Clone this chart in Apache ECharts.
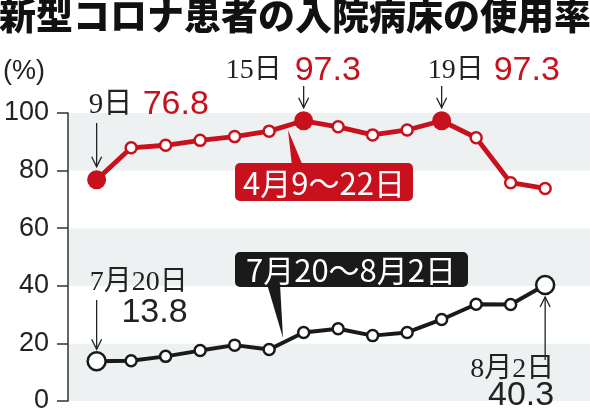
<!DOCTYPE html>
<html><head><meta charset="utf-8">
<script src="https://cdn.jsdelivr.net/npm/echarts@6/dist/echarts.min.js"></script>
<style>html,body{margin:0;padding:0;background:#fff}#c{width:590px;height:418px}</style>
</head><body><div id="c"></div>
<script>
const aprilDays = ['9','10','11','12','13','14','15','16','17','18','19','20','21','22'];
const julyAugDays = ['7/20','7/21','7/22','7/23','7/24','7/25','7/26','7/27','7/28','7/29','7/30','7/31','8/1','8/2'];
const aprilRate = [76.8, 87.9, 88.8, 90.5, 91.8, 93.7, 97.3, 95.2, 92.4, 94.1, 97.3, 91.4, 75.8, 73.8];
const julyAugRate = [13.8, 14.0, 15.5, 17.5, 19.4, 17.9, 23.8, 25.1, 22.7, 23.8, 28.3, 33.6, 33.5, 40.3];
const yTicks = [0, 20, 40, 60, 80, 100];
const aprilHighlight = [0, 6, 10];
const julyHighlight = [0, 13];

const RED = '#c8111c', BLK = '#1a1a1a';
const SANS = "'Liberation Sans', Arial, 'Noto Sans CJK JP', sans-serif";
const SERIF = "'Liberation Serif', 'DejaVu Serif', 'Noto Sans CJK JP', serif";
const CJK = "'Noto Sans CJK JP', sans-serif";

const chart = echarts.init(document.getElementById('c'), null, {renderer: 'canvas'});

const redData = aprilRate.map((v, i) => {
  const hi = aprilHighlight.includes(i);
  return {value: [i, v], symbolSize: hi ? 19 : 11,
    itemStyle: hi ? {color: RED, borderColor: RED, borderWidth: 0} : {color: '#fff', borderColor: RED, borderWidth: 2.5}};
});
const blkData = julyAugRate.map((v, i) => {
  const hi = julyHighlight.includes(i);
  return {value: [i, v], symbolSize: hi ? 18 : 11,
    itemStyle: {color: '#fff', borderColor: BLK, borderWidth: 2.5}};
});

chart.setOption({
  animation: false,
  title: {text: '新型コロナ患者の入院病床の使用率', left: -1, top: -3, padding: 0,
    textStyle: {fontFamily: CJK, fontSize: 37, fontWeight: 900, color: '#111'}},
  grid: {left: 68, right: 0, top: 113, bottom: 17},
  xAxis: {type: 'value', min: -0.83, max: 14.3, show: false},
  yAxis: {type: 'value', min: yTicks[0], max: yTicks[yTicks.length - 1], interval: 20,
    axisLine: {show: true, onZero: false, lineStyle: {color: '#333', width: 1.5}},
    axisTick: {show: true, length: 11, lineStyle: {color: '#333', width: 1.5}},
    axisLabel: {fontFamily: SANS, fontSize: 27, color: '#222', margin: 19},
    splitLine: {show: false},
    splitArea: {show: true, areaStyle: {color: ['#edf1f2', '#ffffff']}}
  },
  series: [
    {type: 'line', data: redData, symbol: 'circle', lineStyle: {color: RED, width: 4.8}, z: 3},
    {type: 'line', data: blkData, symbol: 'circle', lineStyle: {color: BLK, width: 4}, z: 3}
  ]
});

function px(si, i) {
  const v = si === 0 ? aprilRate[i] : julyAugRate[i];
  return chart.convertToPixel({gridIndex: 0}, [i, v]);
}
let uid = 0;
function arrow(x, y1, y2, color) {
  const d = y2 > y1 ? -1 : 1;
  return [
    {type: 'polyline', id: 'a' + (uid++), shape: {points: [[x, y1], [x, y2]]}, style: {stroke: color, lineWidth: 1.3, fill: null}, z: 10},
    {type: 'polyline', id: 'a' + (uid++), shape: {points: [[x - 5, y2 + d * 10], [x, y2], [x + 5, y2 + d * 10]]}, style: {stroke: color, lineWidth: 1.3, fill: null}, z: 10}
  ];
}
function txt(t, x, y, font, fill, align) {
  return {type: 'text', id: 't' + (uid++), z: 10, style: {text: t, x: x, y: y, font: font, fill: fill, textAlign: align || 'left', textVerticalAlign: 'middle'}};
}

const r0 = px(0, 0), r6 = px(0, 6), r10 = px(0, 10);
const b0 = px(1, 0), b13 = px(1, 13);
const els = [];
els.push(txt('(%)', 3, 72, `27px ${SANS}`, '#222'));
// 9日 76.8
els.push(txt(aprilDays[0] + '日', r0[0] - 8, 105, `29px ${SERIF}`, '#222'));
els.push(txt(aprilRate[0].toFixed(1), r0[0] + 46, 105, `34px ${SANS}`, RED));
els.push(...arrow(r0[0], 123, r0[1] - 13, '#222'));
// 15日 97.3
els.push(txt(aprilDays[6] + '日', r6[0] - 22, 71, `28px ${SERIF}`, '#222', 'right'));
els.push(txt(aprilRate[6].toFixed(1), r6[0] - 9, 71, `34px ${SANS}`, RED));
els.push(...arrow(r6[0], 86, r6[1] - 13, '#222'));
// 19日 97.3
els.push(txt(aprilDays[10] + '日', r10[0] - 14, 71, `28px ${SERIF}`, '#222'));
els.push(txt(aprilRate[10].toFixed(1), r10[0] + 52, 71, `34px ${SANS}`, RED));
els.push(...arrow(r10[0], 86, r10[1] - 13, '#222'));
// 7月20日 13.8
els.push(txt('7月20日', b0[0] - 7, 283, `28px ${SERIF}`, '#222'));
els.push(txt(julyAugRate[0].toFixed(1), b0[0] + 91, 313, `34px ${SANS}`, '#222', 'right'));
els.push(...arrow(b0[0], 300, b0[1] - 12, '#222'));
// 8月2日 40.3
els.push(txt('8月2日', b13[0] + 9, 370, `28px ${SERIF}`, '#222', 'right'));
els.push(txt(julyAugRate[13].toFixed(1), b13[0] + 9, 396, `34px ${SANS}`, '#222', 'right'));
els.push(...arrow(b13[0], 360, b13[1] + 12, '#222'));
// red callout
els.push({type: 'polygon', id: 'p1', z: 9, shape: {points: [[288, 130], [292, 166], [303, 166]]}, style: {fill: RED}});
els.push({type: 'rect', id: 'r1', z: 9, shape: {x: 235, y: 163, width: 178, height: 38, r: 5}, style: {fill: RED}});
els.push(txt('4月9～22日', 324, 183, `400 31px ${CJK}`, '#fff', 'center'));
// black callout
els.push({type: 'polygon', id: 'p2', z: 9, shape: {points: [[267, 284], [280, 284], [283, 338]]}, style: {fill: BLK}});
els.push({type: 'rect', id: 'r2', z: 9, shape: {x: 235, y: 252, width: 233, height: 35, r: 5}, style: {fill: BLK}});
els.push(txt('7月20～8月2日', 351, 270, `400 31px ${CJK}`, '#fff', 'center'));

chart.setOption({graphic: {elements: els}});
</script></body></html>
